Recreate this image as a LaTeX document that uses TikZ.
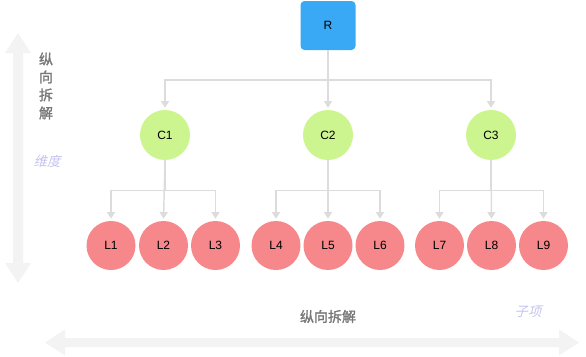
\documentclass[tikz,border=0pt]{standalone}
\usepackage{fontspec}
\setmainfont{Liberation Sans}
\newfontfamily\cjk[AutoFakeBold=1.6]{Noto Sans CJK SC}
\newfontfamily\cjkit[FakeSlant=0.25]{Noto Sans CJK SC}
\usetikzlibrary{arrows.meta}
\definecolor{rblue}{HTML}{3AA9F5}
\definecolor{cgreen}{HTML}{CDF58F}
\definecolor{lpink}{HTML}{F6878A}
\definecolor{conn}{HTML}{DCDCDC}
\definecolor{faint}{HTML}{F3F3F3}
\definecolor{dimtxt}{HTML}{777777}
\definecolor{lav}{HTML}{C4C2EE}
\tikzset{
  rootbox/.style={draw=none, fill=rblue, rounded corners=3pt, minimum width=41.25pt, minimum height=36.75pt, inner sep=0pt, font=\fontsize{9}{10}\selectfont},
  cnode/.style={circle, fill=cgreen, minimum size=37.5pt, inner sep=0pt, font=\fontsize{9}{10}\selectfont},
  lnode/.style={circle, fill=lpink, minimum size=36.75pt, inner sep=0pt, font=\fontsize{9}{10}\selectfont},
  link/.style={draw=conn, line width=1.1pt, -{Triangle[width=6pt,length=5pt]}, shorten >=1.5pt},
  plain/.style={draw=conn, line width=1.1pt},
  bigarrow/.style={fill=faint, draw=none},
  cjklabel/.style={text=dimtxt, font=\cjk\bfseries\fontsize{10.5}{13.5}\selectfont},
  lavlabel/.style={text=lav, font=\cjkit\fontsize{10}{12}\selectfont},
}
\begin{document}
\begin{tikzpicture}[x=0.75pt, y=-0.75pt]
\useasboundingbox (0,0) rectangle (586,357);
% faint big arrows
\fill[bigarrow] (18,33) -- (31,53) -- (23,53) -- (23,263) -- (31,263) -- (18,283) -- (5,263) -- (13,263) -- (13,53) -- (5,53) -- cycle;
\fill[bigarrow] (45,342.5) -- (65,329.5) -- (65,338) -- (559,338) -- (559,329.5) -- (579,342.5) -- (559,355.5) -- (559,347) -- (65,347) -- (65,355.5) -- cycle;
% nodes
\node[rootbox] (R) at (328,25.5) {R};
\node[cnode] (C1) at (165,135) {C1};
\node[cnode] (C2) at (328,135) {C2};
\node[cnode] (C3) at (491,135) {C3};
\node[lnode] (L1) at (111,245.5) {L1};
\node[lnode] (L2) at (163.5,245.5) {L2};
\node[lnode] (L3) at (215.5,245.5) {L3};
\node[lnode] (L4) at (276,245.5) {L4};
\node[lnode] (L5) at (328,245.5) {L5};
\node[lnode] (L6) at (380,245.5) {L6};
\node[lnode] (L7) at (439.5,245.5) {L7};
\node[lnode] (L8) at (491.5,245.5) {L8};
\node[lnode] (L9) at (543.5,245.5) {L9};
% connectors
\coordinate (rb) at (328,80);
\draw[plain] (R.south) -- (rb);
\draw[link] (R.south) -- (C2.north);
\draw[link] (rb) -| (C1.north);
\draw[link] (rb) -| (C3.north);
\foreach \c/\a/\b/\m in {C1/L1/L3/L2, C2/L4/L6/L5, C3/L7/L9/L8}{
  \coordinate (h\c) at ([yshift=-22.5pt]\c.south);
  \draw[plain] (\c.south) -- (h\c);
  \draw[link] (\c.south) -- (\m.north);
  \draw[link] (h\c) -| (\a.north);
  \draw[link] (h\c) -| (\b.north);
}
% labels
\node[cjklabel, align=center, inner sep=0pt] (vt) at (46,86) {纵\\向\\拆\\解};
\node[lavlabel, inner sep=0pt] (wd) at (47,161) {维度};
\node[cjklabel, inner sep=0pt] (ht) at (328,316.5) {纵向拆解};
\node[lavlabel, inner sep=0pt] (zx) at (528,312) {子项};
\end{tikzpicture}
\end{document}
